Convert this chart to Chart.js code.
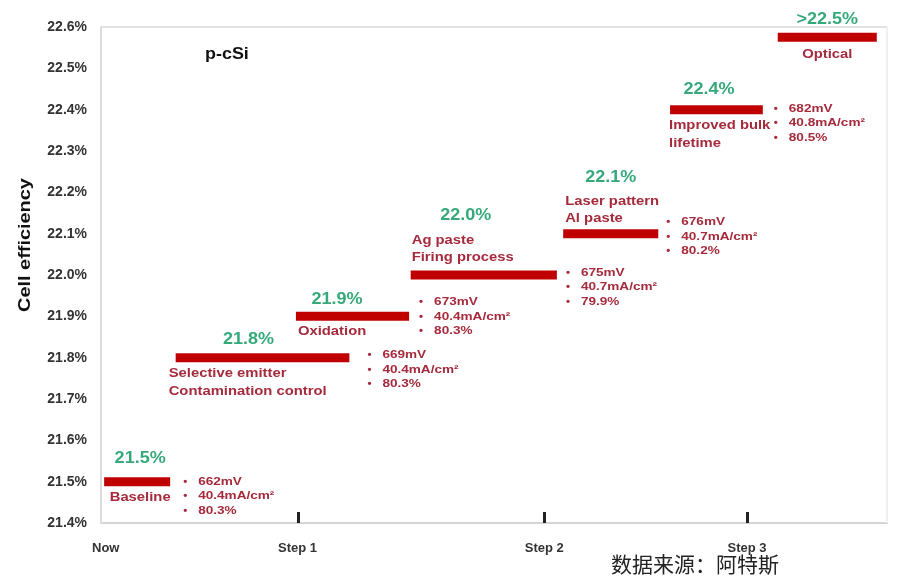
<!DOCTYPE html>
<html>
<head>
<meta charset="utf-8">
<title>p-cSi cell efficiency roadmap</title>
<script src="https://cdn.jsdelivr.net/npm/chart.js@4.4.1/dist/chart.umd.min.js"></script>
<style>
  html, body { margin: 0; padding: 0; background: #fff; }
  #wrap { width: 897px; height: 576px; position: relative; }
</style>
</head>
<body>
<div id="wrap"><canvas id="roadmap"></canvas></div>
<script>
// cell efficiency reached after each process step (%)
const efficiency = [21.5, 21.8, 21.9, 22.0, 22.1, 22.4, 22.575];
const effLabels = ['21.5%', '21.8%', '21.9%', '22.0%', '22.1%', '22.4%', '>22.5%'];
// where each step sits on the timeline (0..100)
const spanStart = [0.4, 9.5, 24.8, 39.4, 58.8, 72.4, 86.1];
const spanEnd = [8.8, 31.6, 39.2, 58.0, 70.9, 84.2, 98.7];
const stepNames = [
  ['Baseline'],
  ['Selective emitter', 'Contamination control'],
  ['Oxidation'],
  ['Ag paste', 'Firing process'],
  ['Laser pattern', 'Al paste'],
  ['Improved bulk', 'lifetime'],
  ['Optical']
];
const voc = ['662mV', '669mV', '673mV', '675mV', '676mV', '682mV', null];
const jsc = ['40.4mA/cm²', '40.4mA/cm²', '40.4mA/cm²', '40.7mA/cm²', '40.7mA/cm²', '40.8mA/cm²', null];
const ff = ['80.3%', '80.3%', '80.3%', '79.9%', '80.2%', '80.5%', null];

const timeTicks = [0.6, 25, 56.4, 82.2];
const timeLabels = ['Now', 'Step 1', 'Step 2', 'Step 3'];
const effTicks = [21.4, 21.5, 21.6, 21.7, 21.8, 21.9, 22.0, 22.1, 22.2, 22.3, 22.4, 22.5, 22.6];

// text placement around each bar, in pixels
const noteLayout = [
  { valDx: 3, valDy: -23, nameAlign: 'center', nameDx: 3, nameDy: [16], listDx: 13, listDy: 0 },
  { valDx: -14, valDy: -18.5, nameAlign: 'left', nameDx: -7, nameDy: [15.5, 33.5], listDx: 18, listDy: -2.5 },
  { valDx: -15.5, valDy: -17.5, nameAlign: 'left', nameDx: 2, nameDy: [15.5], listDx: 10, listDy: -14.5 },
  { valDx: -18, valDy: -59.5, nameAlign: 'left', nameDx: 1, nameDy: [-34.5, -17.5], listDx: 9, listDy: -2.5 },
  { valDx: 0, valDy: -56.5, nameAlign: 'left', nameDx: 2, nameDy: [-32.5, -15.5], listDx: 8, listDy: -11.5 },
  { valDx: -7.5, valDy: -20, nameAlign: 'left', nameDx: -1, nameDy: [16, 34], listDx: 11, listDy: -1 },
  { valDx: 0, valDy: -18, nameAlign: 'center', nameDx: 0, nameDy: [17], listDx: 0, listDy: 0 }
];

const BAR_RED = '#c00000';
const NAME_RED = '#a52a3c';
const VALUE_GREEN = '#35a97a';
const FONT = '"Liberation Sans", Arial, sans-serif';

const datasets = efficiency.map((v, i) => ({
  data: [{ x: spanStart[i], y: v }, { x: spanEnd[i], y: v }],
  showLine: true,
  borderColor: BAR_RED,
  backgroundColor: BAR_RED,
  borderWidth: 9,
  borderCapStyle: 'butt',
  pointRadius: 0,
  pointHoverRadius: 0,
  clip: false
}));

// the slide lettering is a touch wider than Liberation Sans, so widen it a bit
function wideText(ctx, text, x, y, sx) {
  ctx.save();
  ctx.translate(x, y);
  ctx.scale(sx, 1);
  ctx.fillText(text, 0, 0);
  ctx.restore();
}

const annotations = {
  id: 'annotations',
  afterDatasetsDraw(chart) {
    const { ctx, scales: { x, y }, chartArea } = chart;
    ctx.save();

    // frame on top and right
    ctx.strokeStyle = '#e2e2e2';
    ctx.lineWidth = 2;
    ctx.beginPath();
    ctx.moveTo(chartArea.left, chartArea.top);
    ctx.lineTo(chartArea.right, chartArea.top);
    ctx.stroke();
    ctx.strokeStyle = '#f0f0f0';
    ctx.beginPath();
    ctx.moveTo(chartArea.right, chartArea.top);
    ctx.lineTo(chartArea.right, chartArea.bottom);
    ctx.stroke();

    // step markers on the timeline
    ctx.fillStyle = '#222';
    timeTicks.forEach((t, i) => {
      if (i === 0) return;
      const px = Math.round(x.getPixelForValue(t));
      ctx.fillRect(px - 1, chartArea.bottom - 11, 3, 11);
    });

    efficiency.forEach((v, i) => {
      const L = noteLayout[i];
      const x0 = x.getPixelForValue(spanStart[i]);
      const x1 = x.getPixelForValue(spanEnd[i]);
      const py = y.getPixelForValue(v);
      const cx = (x0 + x1) / 2;

      ctx.textBaseline = 'middle';
      ctx.textAlign = 'center';
      ctx.fillStyle = VALUE_GREEN;
      ctx.font = 'bold 17px ' + FONT;
      wideText(ctx, effLabels[i], cx + L.valDx, py + L.valDy, 1.06);

      ctx.fillStyle = NAME_RED;
      ctx.font = 'bold 13px ' + FONT;
      ctx.textAlign = L.nameAlign;
      const nx = L.nameAlign === 'center' ? cx + L.nameDx : x0 + L.nameDx;
      stepNames[i].forEach((line, k) => wideText(ctx, line, nx, py + L.nameDy[k], 1.14));

      if (voc[i]) {
        ctx.textAlign = 'left';
        ctx.font = 'bold 11.5px ' + FONT;
        [voc[i], jsc[i], ff[i]].forEach((line, k) => {
          const ly = py + L.listDy + k * 14.5;
          ctx.fillText('•', x1 + L.listDx, ly);
          wideText(ctx, line, x1 + L.listDx + 15, ly, 1.18);
        });
      }
    });
    ctx.restore();
  },
  afterDraw(chart) {
    const { ctx } = chart;
    ctx.save();
    ctx.fillStyle = '#111';
    ctx.textBaseline = 'middle';
    ctx.textAlign = 'left';
    ctx.font = 'bold 16px ' + FONT;
    wideText(ctx, 'p-cSi', 205, 55, 1.12);

    ctx.translate(25, 245);
    ctx.rotate(-Math.PI / 2);
    ctx.textAlign = 'center';
    ctx.font = 'bold 17px ' + FONT;
    wideText(ctx, 'Cell efficiency', 0, 0, 1.17);
    ctx.restore();

    ctx.save();
    ctx.fillStyle = '#222';
    ctx.textAlign = 'center';
    ctx.textBaseline = 'middle';
    ctx.font = '21px "Noto Sans CJK SC", sans-serif';
    ctx.fillText('数据来源：阿特斯', 695, 564);
    ctx.restore();
  }
};

new Chart(document.getElementById('roadmap'), {
  type: 'scatter',
  data: { datasets },
  options: {
    responsive: true,
    maintainAspectRatio: false,
    animation: false,
    layout: { padding: { top: 27, right: 10, left: 0, bottom: 0 } },
    plugins: { legend: { display: false }, tooltip: { enabled: false } },
    scales: {
      x: {
        type: 'linear',
        min: 0,
        max: 100,
        grid: { display: false, drawTicks: false },
        border: { display: true, color: '#d4d4d4', width: 2 },
        afterBuildTicks: axis => { axis.ticks = timeTicks.map(v => ({ value: v })); },
        afterFit: axis => { axis.height = 53; },
        ticks: {
          padding: 18,
          maxRotation: 0,
          autoSkip: false,
          color: '#333',
          font: { family: FONT, size: 13, weight: 'bold' },
          callback: (v, i) => timeLabels[i]
        }
      },
      y: {
        type: 'linear',
        min: 21.4,
        max: 22.6,
        grid: { display: false, drawTicks: false },
        border: { display: true, color: '#dcdcdc', width: 2 },
        afterBuildTicks: axis => { axis.ticks = effTicks.map(v => ({ value: v })); },
        afterFit: axis => { axis.width = 101; },
        ticks: {
          padding: 14,
          autoSkip: false,
          color: '#333',
          font: { family: FONT, size: 14, weight: 'bold' },
          callback: v => v.toFixed(1) + '%'
        }
      }
    }
  },
  plugins: [annotations]
});
</script>
</body>
</html>
